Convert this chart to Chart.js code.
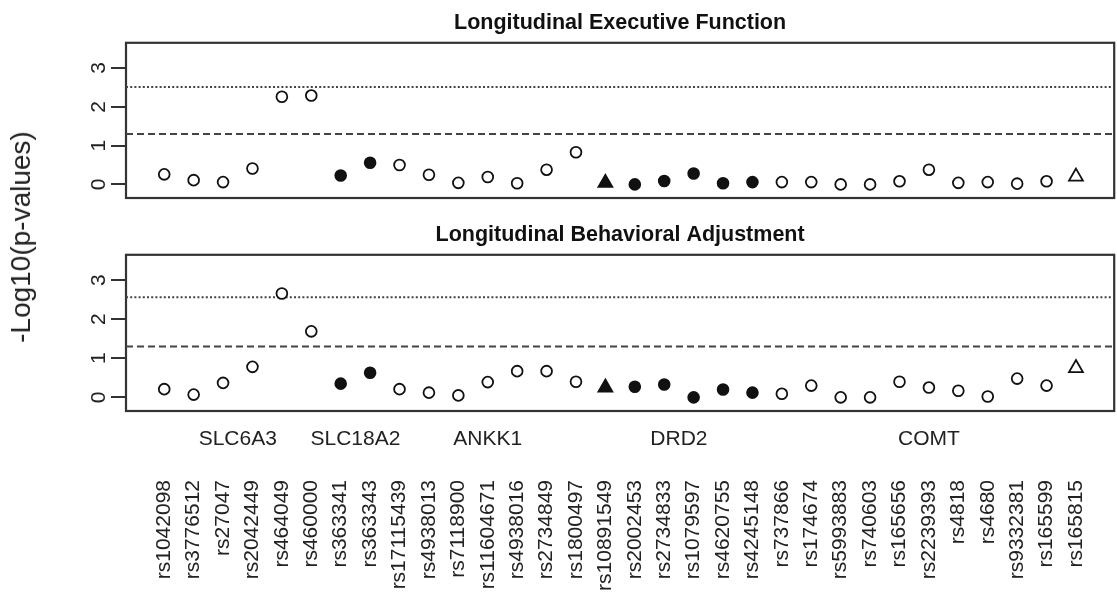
<!DOCTYPE html>
<html><head><meta charset="utf-8">
<script src="https://cdn.jsdelivr.net/npm/chart.js@4.4.0/dist/chart.umd.min.js"></script>
<style>
html,body{margin:0;padding:0;background:#fff;overflow:hidden;width:1117px;height:593px;}
#wrap{position:relative;width:1117px;height:593px;overflow:hidden;background:#fff;}
canvas{position:absolute;left:0;}
#ylab{position:absolute;left:21px;top:237px;transform:translate(-50%,-50%) rotate(-90deg);font:28px 'Liberation Sans',Arial,sans-serif;color:#222;white-space:nowrap;}
</style></head><body>
<div id="wrap">
<canvas id="c1" width="1124" height="212" style="top:0"></canvas>
<canvas id="c2" width="1124" height="381" style="top:212px"></canvas>
<div id="ylab">-Log10(p-values)</div>
</div>
<script>
// ---- data ----
const snps = ['rs1042098','rs3776512','rs27047','rs2042449','rs464049','rs460000','rs363341','rs363343','rs17115439','rs4938013','rs7118900','rs11604671','rs4938016','rs2734849','rs1800497','rs10891549','rs2002453','rs2734833','rs1079597','rs4620755','rs4245148','rs737866','rs174674','rs5993883','rs740603','rs165656','rs2239393','rs4818','rs4680','rs9332381','rs165599','rs165815'];
const genes = ['SLC6A3','SLC18A2','ANKK1','DRD2','COMT'];
const genePositions = [3.5, 7.5, 12, 18.5, 27];
// o = open circle, f = filled circle, t = filled triangle, T = open triangle
const markers = ['o','o','o','o','o','o','f','f','o','o','o','o','o','o','o','t','f','f','f','f','f','o','o','o','o','o','o','o','o','o','o','T'];
const execValues  = [0.26,0.11,0.06,0.41,2.26,2.29,0.23,0.56,0.50,0.25,0.04,0.19,0.03,0.38,0.83,0.04,0.00,0.09,0.28,0.03,0.06,0.06,0.06,0.00,0.00,0.08,0.38,0.04,0.06,0.02,0.08,0.20];
const behavValues = [0.21,0.07,0.37,0.78,2.66,1.69,0.35,0.63,0.21,0.12,0.05,0.39,0.67,0.67,0.40,0.25,0.27,0.33,0.00,0.20,0.12,0.09,0.30,0.00,0.00,0.40,0.25,0.17,0.02,0.48,0.30,0.75];
const yTicks = [0, 1, 2, 3];
const execThresholds  = {dashed: 1.30, dotted: 2.51};
const behavThresholds = {dashed: 1.30, dotted: 2.56};
const xRange = [-0.3, 33.3];
const yRange = [-0.35, 3.65];

Chart.defaults.font.family = "'Liberation Sans', Arial, Helvetica, sans-serif";
Chart.defaults.color = '#222';

const framePlugin = {
  id: 'frame',
  beforeDatasetsDraw(chart) {
    const {ctx, chartArea: a} = chart;
    ctx.save();
    ctx.strokeStyle = '#333';
    ctx.lineWidth = 2.2;
    ctx.strokeRect(a.left, a.top, a.right - a.left, a.bottom - a.top);
    ctx.restore();
  }
};

function pointDataset(values) {
  return {
    type: 'scatter',
    data: values.map((v, i) => ({x: i + 1, y: v})),
    pointStyle: markers.map(m => (m === 't' || m === 'T') ? 'triangle' : 'circle'),
    pointRadius: markers.map(m => (m === 't' || m === 'T') ? 8 : 5.4),
    backgroundColor: markers.map(m => (m === 'f' || m === 't') ? '#111' : '#fff'),
    borderColor: '#111',
    borderWidth: 1.8,
    order: 0
  };
}
function lineDataset(y, dash, color, w) {
  return {
    type: 'line',
    data: [{x: xRange[0], y: y}, {x: xRange[1], y: y}],
    borderColor: color,
    borderWidth: w,
    borderDash: dash,
    pointRadius: 0,
    fill: false,
    order: 1
  };
}
function yScale() {
  return {
    type: 'linear',
    position: 'left',
    min: yRange[0], max: yRange[1],
    afterBuildTicks: s => { s.ticks = yTicks.map(v => ({value: v})); },
    afterFit: s => { s.width = 126; s.paddingTop = 0; s.paddingBottom = 0; },
    border: {display: false},
    grid: {drawOnChartArea: false, drawTicks: true, tickLength: 15, color: '#333', lineWidth: 2},
    ticks: {minRotation: 90, maxRotation: 90, crossAlign: 'center', padding: 6,
            font: {size: 21}, color: '#222', callback: v => String(v)}
  };
}
function titleOpts(text) {
  return {display: true, text: text, fullSize: false, font: {size: 21.5, weight: 'bold'},
          color: '#111', padding: {top: 10, bottom: 7}};
}

new Chart(document.getElementById('c1'), {
  data: {datasets: [
    pointDataset(execValues),
    lineDataset(execThresholds.dashed, [7, 4], '#444', 2),
    lineDataset(execThresholds.dotted, [2, 2.2], '#444', 2)
  ]},
  options: {
    responsive: false, animation: false,
    layout: {padding: {top: 0, right: 0, bottom: 14, left: 0}},
    plugins: {legend: {display: false}, tooltip: {enabled: false}, title: titleOpts('Longitudinal Executive Function')},
    scales: {
      x: {type: 'linear', min: xRange[0], max: xRange[1], display: false},
      y: yScale()
    }
  },
  plugins: [framePlugin]
});

new Chart(document.getElementById('c2'), {
  data: {datasets: [
    pointDataset(behavValues),
    lineDataset(behavThresholds.dashed, [7, 4], '#444', 2),
    lineDataset(behavThresholds.dotted, [2, 2.2], '#444', 2)
  ]},
  options: {
    responsive: false, animation: false,
    layout: {padding: 0},
    plugins: {legend: {display: false}, tooltip: {enabled: false}, title: titleOpts('Longitudinal Behavioral Adjustment')},
    scales: {
      x: {
        type: 'linear', position: 'bottom', weight: 1,
        min: xRange[0], max: xRange[1],
        afterBuildTicks: s => { s.ticks = snps.map((_, i) => ({value: i + 1})); },
        afterFit: s => { s.height = 132; s.paddingLeft = 0; s.paddingRight = 0; },
        border: {display: false},
        grid: {display: false, drawTicks: false},
        ticks: {autoSkip: false, minRotation: 90, maxRotation: 90, padding: 19,
                font: {size: 21}, color: '#222', callback: (v, i) => snps[i]}
      },
      g: {
        type: 'linear', position: 'bottom', weight: 0,
        min: xRange[0], max: xRange[1],
        afterBuildTicks: s => { s.ticks = genePositions.map(v => ({value: v})); },
        afterFit: s => { s.height = 50; s.paddingLeft = 0; s.paddingRight = 0; },
        border: {display: false},
        grid: {display: false, drawTicks: false},
        ticks: {autoSkip: false, maxRotation: 0, minRotation: 0, padding: 16,
                font: {size: 21}, color: '#222', callback: (v, i) => genes[i]}
      },
      y: yScale()
    }
  },
  plugins: [framePlugin]
});
</script>
</body></html>
